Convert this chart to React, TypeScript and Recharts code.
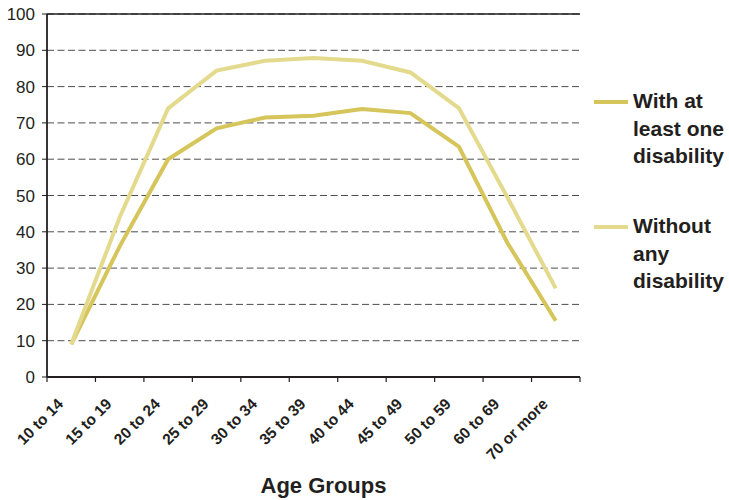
import { LineChart, Line, XAxis, YAxis, CartesianGrid, ReferenceLine, Label } from 'recharts'

const ageGroups = ['10 to 14', '15 to 19', '20 to 24', '25 to 29', '30 to 34', '35 to 39', '40 to 44', '45 to 49', '50 to 59', '60 to 69', '70 or more']
const withDisability = [9, 36, 60, 68.5, 71.5, 72, 73.8, 72.7, 63.5, 37, 15.5]
const withoutDisability = [9, 44, 74, 84.4, 87.1, 87.9, 87.1, 83.9, 74.1, 49.5, 24.4]
const yTicks = [0, 10, 20, 30, 40, 50, 60, 70, 80, 90, 100]

const series = [
  { key: 'with', name: 'With at least one disability', color: '#d5c55a' },
  { key: 'without', name: 'Without any disability', color: '#e3da8e' },
]

const data = ageGroups.map((group, i) => ({
  group,
  with: withDisability[i],
  without: withoutDisability[i],
}))

const FONT = '"Liberation Sans", Arial, sans-serif'
const INK = '#231f20'
const W = 729
const H = 500
const margin = { top: 14, right: 149, left: 0, bottom: 0 }
const yAxisWidth = 47
const halfBand = (W - margin.left - margin.right - yAxisWidth) / ageGroups.length / 2

function AgeTick(props: any) {
  const { x, y, payload, index } = props
  const half = payload.offset || halfBand
  return (
    <g>
      <line x1={x - half} x2={x - half} y1={y - 5} y2={y} stroke={INK} strokeWidth={1.2} />
      {index === ageGroups.length - 1 && (
        <line x1={x + half} x2={x + half} y1={y - 5} y2={y} stroke={INK} strokeWidth={1.2} />
      )}
      <text
        transform={`translate(${x - 7},${y + 23}) rotate(-45)`}
        textAnchor="end"
        fontSize={15.5}
        fontWeight="bold"
        fontFamily={FONT}
        fill={INK}
      >
        {payload.value}
      </text>
    </g>
  )
}

export default function App() {
  return (
    <div style={{ position: 'absolute', left: 0, top: 0, width: W, height: H, background: '#fff', fontFamily: FONT }}>
      <LineChart width={W} height={H} data={data} margin={margin}>
        <CartesianGrid vertical={false} stroke="#4d4d4d" strokeDasharray="7 3.5" />
        <XAxis
          dataKey="group"
          scale="band"
          interval={0}
          height={123}
          tickSize={5}
          tickMargin={0}
          tickLine={false}
          axisLine={{ stroke: INK, strokeWidth: 1.8 }}
          tick={<AgeTick />}
        >
          <Label
            value="Age Groups"
            position="insideBottom"
            offset={7}
            dx={10}
            style={{ fontSize: 22, fontWeight: 'bold', fill: INK, fontFamily: FONT }}
          />
        </XAxis>
        <YAxis
          domain={[0, 100]}
          ticks={yTicks}
          width={yAxisWidth}
          tickSize={5}
          tickMargin={7}
          tickLine={{ stroke: INK }}
          axisLine={{ stroke: INK, strokeWidth: 1.8 }}
          tick={{ fontSize: 17, fill: INK, fontFamily: FONT }}
        />
        <YAxis yAxisId="frame" orientation="right" width={0} tick={false} tickLine={false} axisLine={{ stroke: '#7a7a7a', strokeWidth: 1.5 }} />
        <ReferenceLine y={100} stroke={INK} strokeWidth={1.5} />
        {series.map((s) => (
          <Line
            key={s.key}
            type="linear"
            dataKey={s.key}
            name={s.name}
            stroke={s.color}
            strokeWidth={4}
            dot={false}
            activeDot={false}
            isAnimationActive={false}
          />
        ))}
      </LineChart>

      {series.map((s, i) => (
        <div
          key={s.key}
          style={{ position: 'absolute', left: 594, top: i === 0 ? 87 : 212, display: 'flex', alignItems: 'flex-start' }}
        >
          <div style={{ width: 34, height: 4, marginTop: 13, background: s.color }} />
          <div style={{ width: 96, marginLeft: 5, fontSize: 21, lineHeight: '27.5px', fontWeight: 'bold', color: INK }}>
            {s.name}
          </div>
        </div>
      ))}
    </div>
  )
}
